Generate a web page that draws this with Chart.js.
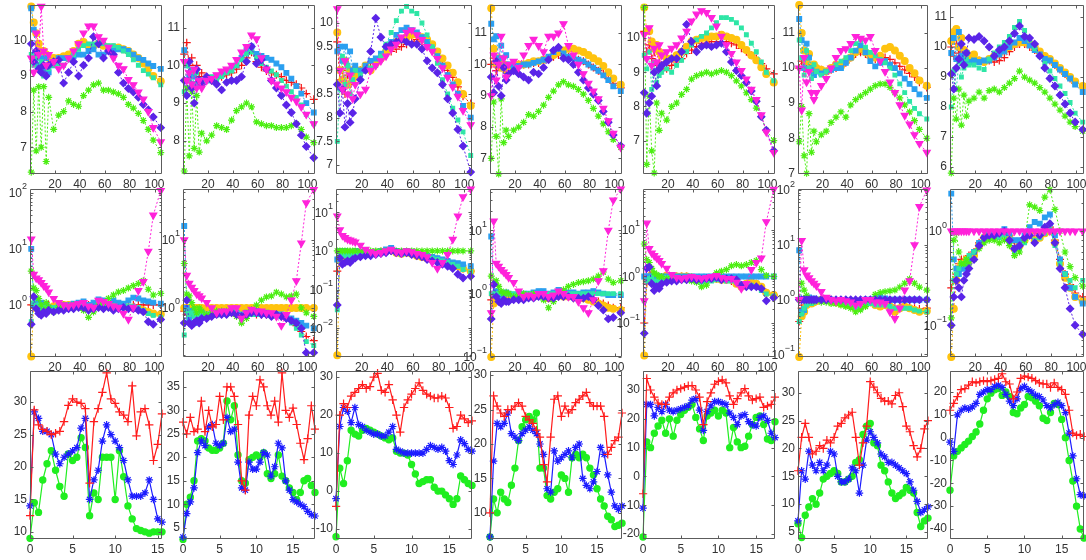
<!DOCTYPE html>
<html><head><meta charset="utf-8">
<script src="https://cdn.jsdelivr.net/npm/chart.js@4/dist/chart.umd.min.js"></script>
<style>
html,body{margin:0;padding:0;background:#fff;width:1086px;height:560px;overflow:hidden;position:relative}
canvas{position:absolute}
</style></head><body>
<script>
// ---------- x grids and tick labels ----------
const X12 = [1,3,5,7,9,11,13,15,19,23,27,31,35,39,43,47,51,55,59,63,67,71,75,79,83,87,91,95,99,105];
const X3 = [0,0.5,1,1.5,2,2.5,3,3.5,4,4.5,5,5.5,6,6.5,7,7.5,8,8.5,9,9.5,10,10.5,11,11.5,12,12.5,13,13.5,14,14.5,15,15.5,16,16.5,17,17.5,18,18.5];
const XTICK12 = [20,40,60,80,100];
const XTICK3 = [0,5,10,15];
const REF = [1,1,1,1,1,1,1,1,1,1,1,1,1,1,1,1,1,1,1,1,1,1,1,1,1,1,1,1,1,1];

// ---------- row 1 (linear) ----------
const r1c1_yel=[10.95,10.5,10.2,9.9,9.7,9.7,9.6,9.5,9.5,9.5,9.55,9.6,9.7,9.9,9.95,9.85,9.85,9.9,9.85,9.8,9.8,9.8,9.75,9.7,9.6,9.5,9.35,9.2,9.0,8.85];
const r1c1_blu=[10.9,10.3,9.6,9.3,9.5,9.2,9.5,9.1,9.3,9.5,9.5,9.5,9.55,9.6,9.6,9.7,9.75,9.6,9.6,9.7,9.75,9.75,9.75,9.7,9.6,9.5,9.45,9.35,9.28,9.2];
const r1c1_tea=[9.6,9.3,9.5,9.2,9.4,9.0,9.3,9.2,9.3,9.35,9.3,9.45,9.6,9.75,9.85,9.9,9.9,9.95,9.9,9.85,9.85,9.8,9.7,9.6,9.45,9.3,9.15,9.05,8.95,8.75];
const r1c1_grn=[6.3,8.6,6.9,8.7,7.0,8.7,6.6,8.4,7.5,7.9,8.0,8.3,8.2,8.15,8.45,8.6,8.75,8.8,8.6,8.6,8.55,8.5,8.4,8.2,8.1,7.95,7.75,7.5,7.2,6.85];
const r1c1_pur=[9.9,9.4,9.7,9.2,9.1,9.3,9.0,9.3,9.4,9.45,8.8,9.1,9.4,9.0,9.3,9.5,10.1,9.9,9.5,9.7,9.6,9.1,8.8,8.65,8.55,8.4,8.2,8.05,7.85,7.55];
const r1c1_mag=[9.5,9.1,10.2,9.6,10.95,9.7,9.3,9.6,9.4,9.2,9.3,9.5,9.7,9.9,10.2,10.4,10.4,10.1,10.0,9.8,9.5,9.3,9.2,8.9,8.75,8.55,8.35,8.0,7.55,7.15];

const r1c2_red=[10.3,10.6,10.0,10.2,9.8,10.0,9.7,9.8,9.7,9.6,9.65,9.7,9.75,9.8,9.9,10.0,10.2,10.35,10.1,9.95,9.85,9.8,9.75,9.7,9.6,9.55,9.5,9.4,9.25,9.1];
const r1c2_blu=[10.4,10.0,9.7,9.5,9.7,9.5,9.6,9.6,9.6,9.65,9.7,9.75,9.85,9.9,10.0,10.2,10.4,10.5,10.3,10.25,10.2,10.15,10.05,9.95,9.8,9.65,9.45,9.25,9.0,8.75];
const r1c2_tea=[9.3,10.0,9.6,9.9,9.4,9.8,9.6,9.5,9.6,9.7,9.6,9.7,9.8,9.85,10.0,10.15,10.3,10.35,10.2,10.05,9.95,9.85,9.75,9.6,9.45,9.3,9.15,8.95,8.7,8.45];
const r1c2_grn=[7.2,9.4,7.6,9.3,7.8,9.2,7.7,8.2,8.0,8.15,8.4,8.35,8.3,8.55,8.8,8.9,9.0,8.9,8.5,8.45,8.4,8.4,8.35,8.35,8.35,8.4,8.45,8.3,8.1,7.95];
const r1c2_pur=[9.6,9.2,10.1,9.4,9.0,9.9,9.6,9.5,9.7,9.6,9.5,9.35,9.55,9.6,9.6,9.7,10.1,10.5,10.05,10.15,9.9,9.6,9.4,9.2,8.95,8.75,8.45,8.15,7.85,7.55];
const r1c2_mag=[10.1,9.6,9.8,9.5,9.9,9.4,9.6,9.4,9.6,9.65,9.75,9.85,9.9,10.0,10.15,10.35,10.5,10.8,10.7,10.2,9.9,9.6,9.5,9.4,9.3,9.15,9.05,8.9,8.7,8.45];

const r1c3_red=[9.6,8.8,9.0,8.5,8.9,8.7,9.0,8.9,9.0,9.05,9.15,9.2,9.25,9.35,9.4,9.45,9.5,9.55,9.6,9.65,9.6,9.55,9.45,9.3,9.15,9.0,8.85,8.65,8.45,8.3];
const r1c3_yel=[9.8,9.0,8.8,9.2,8.7,9.0,8.8,8.9,9.0,9.1,9.0,9.15,9.25,9.4,9.5,9.6,9.65,9.7,9.75,9.75,9.7,9.65,9.55,9.4,9.25,9.1,8.95,8.75,8.5,8.25];
const r1c3_blu=[9.4,9.5,9.2,9.5,9.1,9.4,9.0,9.1,9.0,9.1,9.2,9.25,9.35,9.5,9.6,9.75,9.85,9.9,9.85,9.8,9.7,9.6,9.45,9.3,9.1,8.9,8.7,8.5,8.25,8.0];
const r1c3_tea=[7.5,8.6,9.3,8.7,9.1,8.5,8.8,9.0,8.9,9.0,9.05,9.1,9.3,9.55,9.8,10.05,10.25,10.35,10.25,10.2,10.0,9.75,9.5,9.15,8.8,8.5,8.2,7.95,7.7,7.2];
const r1c3_pur=[8.7,8.1,8.6,7.8,8.3,7.9,8.1,8.4,8.8,9.0,9.4,10.1,9.7,9.5,9.55,9.6,9.65,9.6,9.55,9.55,9.45,9.2,9.05,8.95,8.7,8.4,8.1,7.75,7.4,6.85];
const r1c3_mag=[10.3,9.0,8.6,9.2,8.5,8.9,8.4,8.7,8.5,8.6,9.0,9.1,9.2,9.3,9.45,9.55,9.7,9.8,9.85,9.75,9.65,9.5,9.4,9.25,9.05,8.85,8.65,8.45,8.15,7.85];

const r1c4_red=[10.0,10.2,9.8,10.1,9.9,10.0,9.9,9.95,9.95,10.0,10.0,10.0,10.05,10.05,10.1,10.2,10.25,10.3,10.3,10.25,10.2,10.15,10.1,10.0,9.9,9.8,9.7,9.55,9.4,9.25];
const r1c4_yel=[11.8,10.5,10.0,10.2,9.9,10.0,9.8,9.9,9.95,10.0,10.0,10.05,10.1,10.1,10.15,10.2,10.3,10.4,10.45,10.5,10.5,10.45,10.4,10.3,10.2,10.1,9.95,9.75,9.55,9.35];
const r1c4_blu=[11.3,10.8,10.9,10.2,10.6,9.9,10.3,10.0,9.95,9.95,10.0,10.0,10.05,10.1,10.15,10.25,10.4,10.5,10.35,10.25,10.2,10.15,10.1,10.0,9.9,9.8,9.65,9.5,9.3,9.15];
const r1c4_grn=[7.0,8.8,7.7,6.5,8.9,7.5,7.9,7.7,7.9,8.0,8.15,8.4,8.35,8.5,8.7,8.95,9.15,9.35,9.45,9.35,9.3,9.2,9.05,8.85,8.6,8.35,8.1,7.85,7.6,7.35];
const r1c4_pur=[9.6,9.1,10.1,9.3,9.0,9.9,9.5,9.7,9.8,9.7,9.6,9.5,9.75,9.7,9.9,10.15,10.45,10.55,10.2,10.15,10.0,9.75,9.5,9.25,9.05,8.85,8.5,8.15,7.75,7.4];
const r1c4_mag=[9.0,10.3,9.5,10.0,10.9,10.2,9.6,10.0,10.1,9.9,10.3,10.6,10.8,10.6,10.4,10.9,10.9,11.0,11.3,10.6,10.3,10.0,9.7,9.4,9.15,8.9,8.6,8.2,7.8,7.35];

const r1c5_red=[10.2,9.6,9.8,9.4,9.6,9.2,9.3,9.05,9.1,9.2,9.3,9.4,9.55,9.65,9.75,9.85,9.85,9.9,9.9,9.9,9.9,9.85,9.8,9.7,9.6,9.5,9.4,9.25,9.1,8.95];
const r1c5_yel=[10.9,10.2,10.2,9.9,9.7,9.8,9.6,9.5,9.4,9.4,9.5,9.6,9.75,9.9,9.95,10.0,10.0,10.05,10.05,10.1,10.05,10.0,9.95,9.8,9.65,9.5,9.35,9.15,8.95,8.7];
const r1c5_tea=[9.5,9.1,9.6,8.5,9.3,8.7,8.9,9.0,9.1,9.0,9.2,9.35,9.6,9.8,9.95,10.05,10.15,10.3,10.45,10.6,10.6,10.55,10.45,10.3,10.1,9.85,9.6,9.3,9.0,8.75];
const r1c5_grn=[10.9,6.3,8.3,6.7,6.05,8.1,7.3,7.8,7.6,8.0,8.1,8.35,8.5,8.8,8.9,8.95,9.0,8.95,9.0,9.05,9.0,8.9,8.75,8.6,8.4,8.2,7.95,7.7,7.3,7.0];
const r1c5_pur=[8.4,7.8,8.1,8.3,9.0,8.6,9.1,9.2,9.3,9.4,9.4,9.6,10.4,9.9,9.6,9.75,9.8,9.75,9.8,9.85,9.6,9.3,9.05,8.9,8.7,8.45,8.15,7.7,7.3,6.7];
const r1c5_mag=[10.1,9.4,10.3,9.2,9.7,9.3,9.8,9.5,9.6,9.7,9.8,10.0,10.2,10.5,10.7,10.8,10.75,10.6,10.35,10.05,9.8,9.55,9.3,9.05,8.8,8.5,8.2,7.75,7.25,6.65];

const r1c6_red=[10.0,10.2,10.0,10.1,9.9,10.0,9.9,10.0,9.95,9.9,9.95,10.0,10.05,10.15,10.3,10.4,10.45,10.4,10.3,10.25,10.3,10.3,10.25,10.15,10.05,9.95,9.85,9.75,9.6,9.45];
const r1c6_yel=[11.8,11.0,10.5,10.2,10.4,10.0,10.1,10.0,9.95,9.9,10.0,10.1,10.05,10.2,10.3,10.45,10.55,10.45,10.35,10.3,10.35,10.55,10.6,10.5,10.35,10.2,10.0,9.85,9.65,9.5];
const r1c6_blu=[11.4,10.8,10.0,10.7,10.3,10.0,9.8,9.9,9.85,9.9,9.95,10.0,10.0,10.15,10.3,10.5,10.65,10.45,10.2,10.05,10.15,10.2,10.1,10.0,9.85,9.7,9.55,9.4,9.25,9.15];
const r1c6_tea=[10.8,10.3,9.8,10.5,10.0,9.7,10.1,9.9,9.8,9.9,10.0,10.1,10.2,10.3,10.5,10.7,10.8,10.6,10.45,10.35,10.25,10.15,10.0,9.8,9.55,9.3,9.05,8.85,8.7,8.55];
const r1c6_grn=[7.9,8.9,7.5,7.0,8.7,7.6,8.2,7.9,8.1,8.2,8.45,8.6,8.75,8.6,8.95,9.1,9.2,9.3,9.4,9.5,9.55,9.55,9.45,9.3,9.15,8.95,8.75,8.5,8.25,8.0];
const r1c6_mag=[10.0,8.8,10.3,9.6,9.9,9.3,9.1,9.3,9.5,9.7,10.0,10.3,10.5,10.55,10.7,10.9,10.85,10.8,10.9,10.5,10.2,9.9,9.6,9.3,8.95,8.65,8.4,8.1,7.85,7.6];

const r1c7_red=[10.0,9.7,10.1,9.8,9.9,9.7,9.8,9.6,9.6,9.55,9.5,9.55,9.5,9.55,9.65,9.85,10.0,10.1,10.1,10.0,9.9,9.8,9.65,9.55,9.4,9.25,9.1,8.95,8.8,8.65];
const r1c7_yel=[10.2,10.5,10.6,10.0,10.3,9.9,9.8,9.7,9.75,9.55,9.5,9.6,9.7,9.8,9.9,10.0,10.1,10.15,10.15,10.1,10.0,9.85,9.7,9.6,9.45,9.3,9.15,9.0,8.85,8.7];
const r1c7_blu=[9.8,10.3,9.6,10.5,9.7,9.5,9.8,9.5,9.55,9.5,9.55,9.55,9.65,9.75,9.85,10.0,10.15,10.3,10.2,10.05,9.9,9.75,9.6,9.55,9.4,9.25,9.1,8.95,8.75,8.5];
const r1c7_tea=[8.0,9.2,8.6,9.5,9.0,9.3,9.6,9.4,9.4,9.3,9.25,9.6,9.8,10.0,10.15,10.35,10.65,10.85,10.55,10.25,9.95,9.7,9.45,9.2,8.95,8.7,8.45,8.15,7.8,7.5];
const r1c7_grn=[5.8,8.3,7.6,8.6,7.4,8.4,7.7,8.2,8.3,8.5,8.3,8.55,8.6,8.5,8.65,8.8,8.95,9.2,9.0,8.9,8.8,8.65,8.5,8.3,8.1,7.9,7.7,7.5,7.35,7.2];
const r1c7_pur=[9.1,8.6,9.3,9.6,10.1,9.4,9.8,10.3,10.25,10.35,10.2,10.0,9.7,9.9,10.0,10.2,10.45,10.7,10.35,10.3,10.1,9.7,9.3,8.95,8.7,8.4,8.1,7.8,7.5,7.25];

// ---------- row 2 (log ratios) ----------
const r2c1_yel=[0.12,1.0,0.9,1.0,0.95,0.9,0.95,0.9,0.95,1.0,1.0,1.0,0.95,1.0,1.05,0.95,0.95,1.0,1.0,1.0,0.95,0.95,0.95,0.9,0.9,0.85,0.8,0.75,0.7,0.68];
const r2c1_blu=[10,1.0,1.2,0.9,1.1,0.85,1.0,0.9,0.85,0.95,1.0,1.0,1.05,1.1,1.15,1.0,1.1,1.25,1.2,1.05,1.2,1.1,1.05,1.2,1.35,1.3,1.2,1.15,1.1,1.05];
const r2c1_tea=[0.5,1.1,0.9,1.0,0.8,0.9,0.85,0.9,0.9,0.95,0.95,0.95,1.0,1.05,1.0,0.85,0.9,1.05,1.0,0.95,0.9,0.9,0.9,0.95,0.95,0.9,0.8,0.7,0.65,0.6];
const r2c1_grn=[4.0,2.0,1.8,1.3,1.0,0.8,1.1,0.9,0.75,0.9,1.0,0.95,1.0,0.95,0.8,0.6,0.75,1.0,1.1,1.3,1.5,1.7,1.8,2.0,2.2,2.4,2.7,1.9,1.5,1.6];
const r2c1_pur=[0.45,1.4,0.85,0.7,0.65,0.75,0.7,0.8,0.75,0.8,0.8,0.85,0.85,0.9,0.9,0.8,0.85,0.9,0.85,0.9,0.8,0.85,0.9,0.85,0.85,0.8,0.75,0.5,0.45,0.55];
const r2c1_mag=[15,3.5,3.0,2.8,2.5,2.2,2.0,1.7,1.3,1.1,1.0,0.95,1.0,1.05,1.1,0.95,0.9,1.2,1.15,1.05,0.95,0.9,0.7,0.55,0.9,1.8,2.6,9,40,110];

const r2c2_red=[0.9,0.8,0.9,0.75,0.85,0.8,0.85,0.8,0.8,0.8,0.85,0.85,0.85,0.85,0.8,0.75,0.8,0.85,0.8,0.8,0.8,0.8,0.8,0.75,0.7,0.65,0.55,0.45,0.38,0.33];
const r2c2_blu=[16,1.0,0.7,0.9,0.6,0.8,0.75,0.85,0.8,0.8,0.8,0.85,0.85,0.9,0.85,0.8,0.85,0.85,0.9,0.85,0.85,0.8,0.8,0.8,0.75,0.7,0.65,0.6,0.55,0.5];
const r2c2_tea=[0.4,0.9,0.8,0.85,0.75,0.8,0.8,0.8,0.8,0.8,0.85,0.85,0.8,0.85,0.8,0.7,0.75,0.8,0.8,0.8,0.8,0.75,0.75,0.75,0.7,0.6,0.5,0.4,0.32,0.28];
const r2c2_grn=[4.5,1.6,1.5,1.2,1.0,0.85,1.0,0.9,0.8,0.85,0.9,0.9,0.9,0.85,0.75,0.6,0.7,0.95,1.1,1.3,1.45,1.5,1.7,1.6,1.45,1.5,1.6,1.0,0.85,0.75];
const r2c2_pur=[0.6,1.3,0.6,0.55,0.6,0.65,0.6,0.7,0.7,0.75,0.8,0.8,0.8,0.85,0.8,0.75,0.8,0.85,0.85,0.8,0.8,0.75,0.8,0.75,0.7,0.65,0.6,0.5,0.22,0.22];
const r2c2_mag=[10,3.0,2.3,2.0,1.8,1.6,1.5,1.4,1.2,1.0,0.85,0.9,0.9,1.0,1.0,0.7,0.85,0.95,0.9,0.9,0.85,0.85,0.75,0.55,0.8,1.3,2.5,9,35,55];

const r2c3_red=[0.3,0.7,0.75,0.7,0.75,0.8,0.75,0.8,0.8,0.85,0.85,0.9,0.95,1.0,1.0,0.9,0.85,0.9,0.85,0.75,0.7,0.65,0.6,0.6,0.55,0.5,0.45,0.4,0.35,0.3];
const r2c3_yel=[0.002,0.6,0.7,0.6,0.75,0.7,0.75,0.8,0.8,0.85,0.85,0.9,0.95,1.0,1.05,0.9,0.85,0.9,0.85,0.75,0.7,0.65,0.65,0.6,0.55,0.5,0.45,0.4,0.35,0.3];
const r2c3_blu=[0.6,1.0,0.9,1.0,0.85,0.9,0.95,1.0,0.95,0.9,0.9,0.95,1.0,1.1,1.2,1.0,0.95,1.0,0.95,0.85,0.8,0.75,0.7,0.65,0.6,0.55,0.5,0.48,0.45,0.4];
const r2c3_tea=[0.03,0.7,0.8,0.75,0.8,0.75,0.8,0.85,0.85,0.85,0.9,0.9,0.95,1.0,1.05,0.9,0.8,0.85,0.85,0.8,0.75,0.7,0.65,0.6,0.55,0.5,0.45,0.4,0.33,0.28];
const r2c3_pur=[0.04,0.65,0.45,0.5,0.55,0.5,0.6,0.65,0.7,0.75,0.75,0.8,0.85,0.9,1.0,0.9,0.85,0.9,0.8,0.75,0.7,0.6,0.55,0.5,0.45,0.4,0.35,0.25,0.2,0.22];
const r2c3_mag=[8,3.5,2.5,2.2,2.0,1.9,1.8,1.7,1.4,1.1,0.95,0.85,0.9,1.0,1.1,0.95,0.9,1.0,0.95,0.85,0.8,0.7,0.5,0.35,0.5,0.8,2.0,8,25,40];

const r2c4_red=[0.8,0.9,0.85,0.9,0.9,0.85,0.9,0.9,0.9,0.95,0.95,0.95,0.95,0.95,0.95,0.85,0.85,0.9,0.9,0.9,0.85,0.85,0.85,0.85,0.8,0.75,0.7,0.65,0.6,0.6];
const r2c4_yel=[0.1,0.7,0.85,0.9,0.85,0.9,0.95,0.9,0.9,0.95,0.95,0.95,0.9,0.95,0.95,0.85,0.9,0.95,0.9,0.9,0.9,0.85,0.85,0.8,0.75,0.7,0.65,0.6,0.58,0.55];
const r2c4_blu=[8,1.0,1.1,1.0,0.9,1.0,1.05,1.0,0.95,1.0,1.0,1.0,1.05,1.1,1.1,1.0,1.05,1.15,1.1,1.05,1.05,1.0,1.05,1.05,1.1,1.05,1.0,0.95,0.95,0.95];
const r2c4_grn=[1.9,1.5,1.6,1.3,1.1,1.0,1.05,1.0,0.9,0.95,1.0,0.95,1.0,0.95,0.8,0.6,0.75,0.95,1.15,1.3,1.4,1.5,1.55,1.6,1.7,1.9,2.2,1.7,1.5,1.6];
const r2c4_pur=[0.4,1.4,0.9,0.75,0.7,0.8,0.75,0.75,0.8,0.8,0.8,0.85,0.85,0.9,0.9,0.85,0.85,0.9,0.9,0.9,0.85,0.85,0.85,0.9,0.8,0.65,0.55,0.4,0.42,0.5];
const r2c4_mag=[0.5,14,3.0,2.7,2.4,2.2,2.0,1.8,1.5,1.1,0.9,0.95,0.9,1.0,1.0,0.9,0.95,1.1,1.0,0.9,0.9,0.75,0.6,0.5,0.8,1.6,2.3,10,30,45];

const r2c5_red=[0.1,0.7,0.85,1.0,0.8,0.85,0.9,0.9,1.0,1.0,1.0,1.0,1.0,0.95,0.9,0.9,0.9,0.9,0.9,0.85,0.85,0.8,0.75,0.65,0.7,0.75,0.7,0.55,0.45,0.4];
const r2c5_yel=[0.02,0.8,0.95,1.1,0.85,0.8,0.9,0.95,1.05,1.0,1.0,1.0,1.0,0.95,0.9,0.9,0.85,0.9,0.9,0.85,0.85,0.85,0.7,0.6,0.7,0.75,0.7,0.6,0.45,0.4];
const r2c5_tea=[0.3,0.8,0.9,0.95,0.75,0.8,0.85,0.9,0.95,0.95,0.95,0.9,0.95,0.85,0.8,0.75,0.8,0.8,0.85,0.85,0.8,0.8,0.75,0.7,0.7,0.65,0.6,0.5,0.42,0.38];
const r2c5_grn=[5.0,2.3,2.0,1.5,1.2,1.1,1.0,1.0,0.9,0.9,0.9,0.9,0.85,0.8,0.75,0.6,0.65,0.9,1.2,1.3,1.4,1.7,1.8,1.7,1.8,2.0,2.2,1.4,1.05,1.0];
const r2c5_pur=[0.06,1.5,1.6,0.7,0.5,0.6,0.55,0.7,0.75,0.8,0.8,0.85,0.85,0.9,0.85,0.85,0.9,0.9,0.95,0.85,0.9,0.9,0.85,0.65,0.6,0.6,0.6,0.55,0.3,0.35];
const r2c5_mag=[0.3,14,4.0,3.2,2.8,2.5,2.2,1.9,1.5,1.1,0.95,0.9,0.95,1.0,0.95,0.9,0.95,1.0,1.05,0.95,0.9,0.9,0.75,0.55,0.7,1.4,2.0,2.5,15,75];

const r2c6_red=[0.4,0.7,0.8,0.9,1.0,0.9,0.95,1.0,1.0,1.0,1.0,0.95,0.9,0.9,0.85,0.8,0.8,0.85,0.9,0.85,0.85,0.85,0.8,0.7,0.75,0.8,0.75,0.7,0.68,0.7];
const r2c6_yel=[0.09,0.5,0.6,0.8,0.9,0.85,0.9,0.95,1.0,1.0,0.95,0.9,0.85,0.85,0.8,0.7,0.75,0.85,0.9,0.8,0.75,0.8,0.75,0.6,0.7,0.75,0.7,0.65,0.6,0.62];
const r2c6_blu=[8,0.6,0.65,0.9,1.1,1.0,1.05,1.0,1.0,1.0,1.0,0.95,0.95,0.95,0.95,0.9,0.95,1.0,1.0,1.05,1.15,1.05,1.0,1.0,1.0,1.0,1.0,1.0,1.0,1.0];
const r2c6_tea=[0.4,0.55,0.7,0.8,0.9,0.85,0.9,0.95,0.95,0.95,0.95,0.9,0.85,0.8,0.8,0.7,0.7,0.8,0.85,0.8,0.8,0.8,0.75,0.7,0.7,0.7,0.7,0.65,0.62,0.6];
const r2c6_grn=[1.0,2.0,1.5,1.2,1.0,0.95,0.95,1.0,0.9,0.9,0.85,0.85,0.8,0.75,0.7,0.6,0.65,0.75,1.0,1.25,1.35,1.4,1.45,1.5,1.7,2.0,2.4,2.0,1.7,1.5];
const r2c6_mag=[1.0,12,3.5,2.8,2.5,2.2,2.0,1.8,1.4,1.1,1.0,0.95,1.0,0.95,0.9,0.8,0.85,1.0,1.0,0.9,0.9,0.85,0.6,0.45,0.7,1.5,2.2,10,50,100];

const r2c7_red=[0.25,0.3,0.35,0.45,0.5,0.5,0.5,0.55,0.6,0.75,0.85,0.95,0.95,0.95,1.0,0.9,0.7,0.75,0.85,1.0,0.85,0.95,1.0,1.1,0.8,0.5,0.35,0.27,0.22,0.2];
const r2c7_yel=[0.046,0.15,0.3,0.4,0.45,0.45,0.5,0.5,0.55,0.7,0.85,0.9,0.9,0.9,0.95,0.85,0.65,0.7,0.8,0.95,0.8,0.85,0.95,1.0,0.75,0.45,0.32,0.25,0.2,0.18];
const r2c7_blu=[2.5,0.5,0.4,0.35,0.4,0.4,0.45,0.5,0.6,0.75,0.85,0.95,0.95,0.95,1.05,0.95,0.8,0.8,0.9,1.1,1.25,1.2,1.4,1.5,0.9,0.5,0.35,0.25,0.2,0.17];
const r2c7_tea=[0.1,0.3,0.35,0.4,0.45,0.45,0.5,0.55,0.6,0.7,0.8,0.85,0.85,0.85,0.9,0.75,0.6,0.65,0.75,0.9,0.8,0.85,0.95,1.05,0.7,0.45,0.35,0.3,0.25,0.3];
const r2c7_grn=[0.12,0.8,0.95,0.6,0.45,0.45,0.5,0.45,0.5,0.65,0.75,0.8,0.8,0.75,0.8,0.7,0.55,0.6,0.8,1.9,1.8,1.65,2.3,2.75,1.7,1.0,0.6,0.42,0.32,0.26];
const r2c7_pur=[0.1,0.2,0.3,0.25,0.2,0.3,0.35,0.4,0.5,0.7,0.85,0.9,0.9,0.95,1.0,0.8,0.65,0.7,0.85,0.9,0.75,0.9,1.1,1.2,0.75,0.4,0.25,0.15,0.1,0.08];

// ---------- row 3 ----------
const r3c1_red=[12.5,28.8,26.5,25.8,25.5,25.0,25.2,25.5,27.0,29.5,30.5,30.0,29.8,29.0,17.5,27.0,29.0,31.5,34.5,30.5,29.8,28.5,28.0,27.0,32.5,24.8,28.5,29.0,26.5,21.0,23.5,28.2];
const r3c1_blu=[14.0,28.5,27.5,25.5,25.5,25.0,22.0,20.5,21.5,22.0,22.5,23.0,26.0,27.5,15.0,18.0,19.5,24.0,26.5,25.0,24.0,23.0,21.0,18.0,15.5,15.5,15.5,16.0,18.0,15.0,12.0,11.5];
const r3c1_grn=[9.0,14.5,13.0,18.0,20.5,22.5,19.5,17.0,15.5,22.0,21.0,21.5,24.5,23.0,12.5,16.0,15.0,21.5,21.5,21.5,15.0,22.5,18.5,14.0,12.0,10.5,10.2,10.0,9.8,10.0,10.0,10.0];
const r3c2_red=[27.5,25.0,28.5,25.5,26.0,32.0,25.5,30.0,26.5,27.0,33.0,28.0,35.0,35.0,33.0,27.0,15.0,13.0,29.0,33.0,31.0,36.5,35.0,31.0,29.0,32.0,27.5,38.0,30.0,28.5,30.5,27.0,23.0,19.5,24.0,31.0,26.0];
const r3c2_blu=[3.0,8.0,10.5,13.5,21.0,23.5,22.5,26.5,27.0,23.0,22.5,23.0,28.5,25.5,26.0,19.0,13.5,13.0,19.0,17.5,17.5,19.0,21.0,20.5,16.0,18.0,23.0,22.0,15.0,13.0,11.0,10.5,10.0,9.5,8.5,7.8,7.5];
const r3c2_grn=[2.5,10.0,11.5,15.0,23.5,24.0,23.5,22.0,21.5,21.5,22.0,23.0,32.0,28.0,31.0,20.5,15.0,14.5,19.5,20.0,20.5,20.0,21.0,16.5,15.5,16.5,20.5,16.0,15.0,13.5,12.5,11.0,12.5,15.0,15.5,14.0,12.5];
const r3c3_red=[-4.0,20.0,23.0,22.0,25.0,26.0,27.0,28.0,27.0,27.5,30.0,31.0,26.5,26.0,28.0,24.0,20.0,15.5,22.0,24.0,25.5,27.0,28.5,26.5,25.5,25.0,24.5,24.5,25.0,24.5,22.0,16.5,17.0,20.0,19.0,18.0,18.5];
const r3c3_blu=[-2.0,17.0,22.0,21.0,18.0,22.0,17.5,17.0,16.0,15.5,15.0,15.0,14.5,14.5,15.5,17.0,11.0,10.5,10.0,10.0,10.0,10.0,10.0,10.0,11.0,12.0,11.5,11.0,11.5,10.5,8.0,7.0,9.5,13.5,12.5,11.0,10.5];
const r3c3_grn=[-12.0,6.0,2.0,8.0,16.0,15.0,14.5,16.0,16.5,16.0,15.5,15.0,14.5,14.0,13.5,14.0,10.5,10.0,10.0,9.5,7.0,4.5,2.0,2.5,3.0,3.0,1.0,0.0,0.0,-1.0,-2.0,-3.5,-2.0,4.0,3.0,2.0,1.5];
const r3c4_red=[10.0,27.0,25.5,24.5,24.0,25.0,25.0,25.5,26.0,25.5,24.0,23.5,23.0,22.0,21.0,17.0,14.5,21.0,26.5,27.0,24.0,25.5,24.5,25.0,26.0,26.5,27.0,27.5,26.0,25.5,25.5,25.5,24.0,18.5,19.5,20.5,21.0,24.5];
const r3c4_blu=[6.5,17.5,23.0,22.5,23.0,24.5,21.5,21.0,20.5,21.5,22.0,22.5,22.0,21.5,20.0,18.5,13.5,13.0,19.0,17.5,18.0,18.5,19.0,18.0,19.5,20.0,15.0,14.0,13.5,14.5,16.0,19.5,18.5,15.5,13.0,11.0,10.5,11.0];
const r3c4_grn=[6.5,12.0,10.0,13.0,12.0,11.5,14.0,16.5,20.5,22.5,23.5,24.0,23.5,24.5,16.5,16.5,12.5,12.0,13.0,13.5,15.5,15.0,13.0,18.0,18.5,18.0,18.5,18.0,16.5,15.5,13.5,12.0,11.0,9.5,9.0,8.0,8.2,8.5];
const r3c5_red=[-6.0,34.0,30.0,27.5,25.5,25.0,25.0,27.5,29.0,30.0,30.5,31.0,31.5,31.5,30.0,27.5,18.0,26.0,29.0,32.0,33.0,33.5,32.5,28.0,25.0,27.0,29.0,30.5,28.0,26.5,27.0,27.5,24.0,24.5,25.0,27.5];
const r3c5_blu=[-11.0,25.0,25.0,21.0,24.0,22.5,25.0,23.0,22.5,23.0,23.5,24.0,24.5,26.5,27.0,23.0,16.0,22.5,24.5,26.0,26.0,25.5,25.0,22.0,20.5,18.0,21.0,21.5,19.0,18.0,17.5,20.5,21.0,19.5,15.0,13.5];
const r3c5_grn=[-21.0,12.0,10.0,15.0,17.5,19.5,15.0,20.0,14.0,19.5,21.5,23.0,24.0,25.0,20.5,16.5,12.5,21.0,22.0,23.0,21.0,23.0,22.0,10.0,17.0,12.0,10.0,10.5,14.0,18.0,20.5,21.0,18.0,13.0,12.5,19.0];
const r3c6_red=[16.0,22.0,24.5,22.0,19.0,19.5,20.5,20.0,21.5,21.0,22.0,24.0,24.5,25.5,26.0,26.5,22.0,17.0,21.0,24.0,32.0,31.0,30.0,29.0,28.5,28.5,28.0,29.5,30.0,27.5,24.0,23.0,20.5,18.5,20.0,23.5,25.0];
const r3c6_blu=[7.0,16.0,14.5,19.5,17.0,16.0,17.5,16.0,17.0,19.5,19.0,15.0,14.0,14.0,14.5,16.5,16.0,12.0,17.0,21.5,23.0,22.0,21.0,19.0,18.5,17.5,17.5,17.0,16.5,16.0,15.5,14.0,12.5,10.5,8.5,9.0,9.5];
const r3c6_grn=[6.5,4.0,8.0,9.5,11.0,10.0,12.0,14.5,15.0,15.5,16.0,15.5,14.0,14.0,14.5,15.0,17.5,18.0,22.5,24.0,24.5,21.0,20.5,17.0,16.0,14.0,12.0,11.0,11.5,12.0,13.0,12.5,12.0,8.5,6.0,7.0,7.5];
const r3c7_red=[12.0,15.0,18.0,21.0,21.5,23.0,24.5,24.0,24.5,25.0,24.5,25.0,25.5,26.0,28.0,24.5,23.5,17.0,20.0,26.0,27.0,26.5,26.0,25.0,24.0,23.5,23.5,22.0,24.0,22.0,21.0,19.0,12.0,2.0,1.0,1.5,0.5];
const r3c7_blu=[-2.0,-6.0,10.0,12.0,13.0,12.5,13.5,15.0,19.0,20.0,21.0,21.0,22.5,23.0,22.0,19.0,16.0,14.0,17.0,21.5,22.5,21.0,20.0,18.5,18.0,16.5,14.0,13.0,14.5,15.5,14.0,11.0,2.0,-8.0,-18.0,-25.0,-25.5];
const r3c7_grn=[-23.0,-8.0,-6.0,-4.5,-3.0,-1.5,0.5,2.5,6.0,12.0,17.0,19.5,21.0,21.5,18.5,20.0,18.0,11.0,10.5,13.0,14.5,18.0,17.5,16.0,14.0,8.5,7.5,11.0,15.0,14.5,8.0,0.0,-10.0,-19.0,-30.0,-40.0,-44.0];

// ---------- panel tables (built from the arrays above) ----------
const ROW1 = [
 {y:[6.25,10.99], yt:[7,8,9,10], s:{yel:r1c1_yel,blu:r1c1_blu,tea:r1c1_tea,grn:r1c1_grn,pur:r1c1_pur,mag:r1c1_mag}},
 {y:[7.12,11.6], yt:[8,9,10,11], s:{red:r1c2_red,blu:r1c2_blu,tea:r1c2_tea,grn:r1c2_grn,pur:r1c2_pur,mag:r1c2_mag}},
 {y:[6.81,10.38], yt:[7,7.5,8,8.5,9,9.5,10], s:{red:r1c3_red,yel:r1c3_yel,blu:r1c3_blu,tea:r1c3_tea,pur:r1c3_pur,mag:r1c3_mag}},
 {y:[6.5,11.9], yt:[7,8,9,10,11], s:{red:r1c4_red,yel:r1c4_yel,blu:r1c4_blu,grn:r1c4_grn,pur:r1c4_pur,mag:r1c4_mag}},
 {y:[6.02,10.97], yt:[7,8,9,10], s:{red:r1c5_red,yel:r1c5_yel,tea:r1c5_tea,grn:r1c5_grn,pur:r1c5_pur,mag:r1c5_mag}},
 {y:[6.98,11.8], yt:[7,8,9,10,11], s:{red:r1c6_red,yel:r1c6_yel,blu:r1c6_blu,tea:r1c6_tea,grn:r1c6_grn,mag:r1c6_mag}},
 {y:[5.77,11.4], yt:[6,7,8,9,10,11], s:{red:r1c7_red,yel:r1c7_yel,blu:r1c7_blu,tea:r1c7_tea,grn:r1c7_grn,pur:r1c7_pur}}
];
const ROW2 = [
 {y:[0.1175,117], yt:[1,10,100], s:{red:REF,yel:r2c1_yel,blu:r2c1_blu,tea:r2c1_tea,grn:r2c1_grn,pur:r2c1_pur,mag:r2c1_mag}},
 {y:[0.19,56], yt:[1,10], s:{red:r2c2_red,yel:REF,blu:r2c2_blu,tea:r2c2_tea,grn:r2c2_grn,pur:r2c2_pur,mag:r2c2_mag}},
 {y:[0.0018,40], yt:[0.01,0.1,1,10], s:{red:r2c3_red,yel:r2c3_yel,blu:r2c3_blu,tea:r2c3_tea,grn:REF,pur:r2c3_pur,mag:r2c3_mag}},
 {y:[0.1,45], yt:[0.1,1,10], s:{red:r2c4_red,yel:r2c4_yel,blu:r2c4_blu,tea:REF,grn:r2c4_grn,pur:r2c4_pur,mag:r2c4_mag}},
 {y:[0.0186,76], yt:[0.1,1,10], s:{red:r2c5_red,yel:r2c5_yel,blu:REF,tea:r2c5_tea,grn:r2c5_grn,pur:r2c5_pur,mag:r2c5_mag}},
 {y:[0.09,105], yt:[0.1,1,10,100], s:{red:r2c6_red,yel:r2c6_yel,blu:r2c6_blu,tea:r2c6_tea,grn:r2c6_grn,pur:REF,mag:r2c6_mag}},
 {y:[0.046,2.8], yt:[0.1,1], s:{red:r2c7_red,yel:r2c7_yel,blu:r2c7_blu,tea:r2c7_tea,grn:r2c7_grn,pur:r2c7_pur,mag:REF}}
];
const ROW3 = [
 {x:15.5, y:[8.9,34.8], yt:[10,15,20,25,30], s:{red:r3c1_red,blu:r3c1_blu,grn:r3c1_grn}},
 {x:18, y:[2.6,38.4], yt:[5,10,15,20,25,30,35], s:{red:r3c2_red,blu:r3c2_blu,grn:r3c2_grn}},
 {x:18, y:[-12.6,31.6], yt:[-10,0,10,20,30], s:{red:r3c3_red,blu:r3c3_blu,grn:r3c3_grn}},
 {x:18.5, y:[6.2,30.6], yt:[10,15,20,25,30], s:{red:r3c4_red,blu:r3c4_blu,grn:r3c4_grn}},
 {x:17.5, y:[-21.7,36.6], yt:[-20,-10,0,10,20,30], s:{red:r3c5_red,blu:r3c5_blu,grn:r3c5_grn}},
 {x:18, y:[3.75,33.9], yt:[5,10,15,20,25,30], s:{red:r3c6_red,blu:r3c6_blu,grn:r3c6_grn}},
 {x:18, y:[-44.4,29.2], yt:[-40,-30,-20,-10,0,10,20], s:{red:r3c7_red,blu:r3c7_blu,grn:r3c7_grn}}
];

// ---------- styles & layout ----------
const STY12 = {
 red:{c:'#f51414', ps:'cross', r:4, o:6},
 yel:{c:'#ffc30f', ps:'circle', r:3.4, o:5},
 blu:{c:'#2a9ff0', ps:'rect', r:3.3, o:4},
 tea:{c:'#2ee6a6', ps:'rect', r:2.6, o:3},
 grn:{c:'#4cee12', ps:'star', r:3.5, o:2},
 pur:{c:'#5a24e8', ps:'rectRot', r:3.6, o:1},
 mag:{c:'#ff22da', ps:'triangle', r:4, rot:180, o:0}
};
const STY3 = {
 red:{c:'#ff1c1c', ps:'cross', r:4.2, o:0},
 blu:{c:'#1c1cff', ps:'star', r:3.8, o:1},
 grn:{c:'#20ee20', ps:'circle', r:3.1, o:2}
};
const PANEL_L=[30,183,336,490,643,798,950];
const PANEL_W=[132,132,136,132,132,130,134];
const ROW_T=[5,189,371];
const ROW_H=[169,168,168];
const PAD_L=30, PAD_R=6, PAD_T=12, PAD_B=17;
const FONT="'Liberation Sans', Arial, Helvetica, sans-serif";
const TXT='#333';

const framePlugin = {
 id:'frame',
 afterDatasetsDraw(chart){
  const {ctx, chartArea:a} = chart; const xs=chart.scales.x, ys=chart.scales.y;
  const L=Math.round(a.left)+0.5, R=Math.round(a.right)-0.5, T=Math.round(a.top)+0.5, B=Math.round(a.bottom)-0.5;
  ctx.save(); ctx.strokeStyle='#5c5c5c'; ctx.lineWidth=1; ctx.beginPath();
  ctx.rect(L,T,R-L,B-T);
  const tl=3;
  xs.ticks.forEach(t=>{const p=Math.round(xs.getPixelForValue(t.value))+0.5; ctx.moveTo(p,B); ctx.lineTo(p,B-tl); ctx.moveTo(p,T); ctx.lineTo(p,T+tl);});
  ys.ticks.forEach(t=>{const p=Math.round(ys.getPixelForValue(t.value))+0.5; ctx.moveTo(L,p); ctx.lineTo(L+tl,p); ctx.moveTo(R,p); ctx.lineTo(R-tl,p);});
  const isLog = ys.type==='logarithmic';
  if(isLog){
   const e0=Math.floor(Math.log10(ys.min)), e1=Math.ceil(Math.log10(ys.max));
   for(let e=e0;e<=e1;e++) for(let k=2;k<=9;k++){const v=k*Math.pow(10,e); if(v<=ys.min||v>=ys.max) continue;
     const p=Math.round(ys.getPixelForValue(v))+0.5; ctx.moveTo(L,p); ctx.lineTo(L+2,p); ctx.moveTo(R,p); ctx.lineTo(R-2,p);}
  }
  ctx.stroke();
  if(isLog){
   ctx.fillStyle=TXT; ctx.textBaseline='middle';
   ys.ticks.forEach(t=>{
    const e=Math.round(Math.log10(t.value)); const es = e<0 ? '\u2212'+(-e) : String(e);
    const p=ys.getPixelForValue(t.value); const xr=a.left-3;
    ctx.font='9px '+FONT; const ew=ctx.measureText(es).width;
    ctx.textAlign='left'; ctx.fillText(es, xr-ew, p-6);
    ctx.font='12px '+FONT; ctx.textAlign='right'; ctx.fillText('10', xr-ew, p+1);
   });
  }
  ctx.restore();
 }
};

function makeDataset(ys, xs, st){
 return {
  data: ys.map((y,i)=>({x:xs[i], y:y})),
  showLine:true, borderColor:st.c, backgroundColor:st.c, pointBackgroundColor:st.c, pointBorderColor:st.c,
  pointStyle:st.ps, pointRadius:st.r, pointRotation:st.rot||0, pointBorderWidth:1.2,
  borderWidth:st.lw||1, borderDash:st.dash||[], order:st.o, clip:4, tension:0
 };
}

function makePanel(row, col, cfg, xcfg){
 const cv=document.createElement('canvas');
 const w=PANEL_W[col]+PAD_L+PAD_R, h=ROW_H[row]+PAD_T+PAD_B;
 cv.width=w; cv.height=h; cv.style.width=w+'px'; cv.style.height=h+'px';
 cv.style.left=(PANEL_L[col]-PAD_L)+'px'; cv.style.top=(ROW_T[row]-PAD_T)+'px';
 document.body.appendChild(cv);
 const isLog = row===1;
 const styles = row===2 ? STY3 : STY12;
 const datasets=[];
 Object.keys(cfg.s).forEach(k=>{
  const st = Object.assign({}, styles[k]);
  if(row===2){ st.lw=1.2; } else { st.lw=1; st.dash=[2,2]; }
  datasets.push(makeDataset(cfg.s[k], xcfg.xs, st));
 });
 new Chart(cv.getContext('2d'), {
  type:'scatter',
  data:{datasets},
  plugins:[framePlugin],
  options:{
   animation:false, responsive:false, devicePixelRatio:1, events:[],
   layout:{padding:{left:0,right:PAD_R,top:PAD_T,bottom:0}},
   plugins:{legend:{display:false}, tooltip:{enabled:false}},
   scales:{
    x:{type:'linear', min:xcfg.min, max:xcfg.max,
       afterBuildTicks:s=>{s.ticks=xcfg.ticks.map(v=>({value:v}));},
       afterFit:s=>{s.height=PAD_B; s.paddingLeft=0; s.paddingRight=0;},
       grid:{display:false, drawTicks:false}, border:{display:false},
       ticks:{color:TXT, font:{size:12, family:FONT}, padding:3, maxRotation:0, autoSkip:false, callback:v=>String(v)}},
    y:{type:isLog?'logarithmic':'linear', min:cfg.y[0], max:cfg.y[1],
       afterBuildTicks:s=>{s.ticks=cfg.yt.map(v=>({value:v}));},
       afterFit:s=>{s.width=PAD_L; s.paddingTop=0; s.paddingBottom=0;},
       grid:{display:false, drawTicks:false}, border:{display:false},
       ticks:{display:!isLog, color:TXT, font:{size:12, family:FONT}, padding:3, autoSkip:false, callback:v=>String(v)}}
   }
  }
 });
}

ROW1.forEach((c,i)=>makePanel(0,i,c,{xs:X12,min:0,max:106,ticks:XTICK12}));
ROW2.forEach((c,i)=>makePanel(1,i,c,{xs:X12,min:0,max:106,ticks:XTICK12}));
ROW3.forEach((c,i)=>makePanel(2,i,c,{xs:X3,min:0,max:c.x,ticks:XTICK3}));
</script>
</body></html>
